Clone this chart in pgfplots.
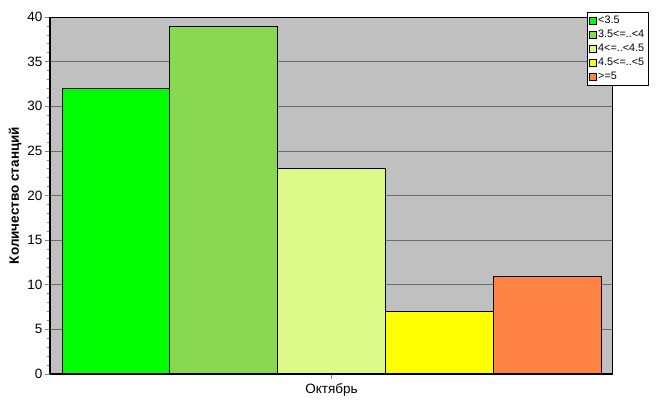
\documentclass[border=0pt]{standalone}
\usepackage{fontspec}
\setmainfont{Liberation Sans}
\usepackage{pgfplots}
\pgfplotsset{compat=1.18}
\definecolor{bgray}{HTML}{C0C0C0}
\definecolor{c1}{HTML}{00FF00}
\definecolor{c2}{HTML}{88D850}
\definecolor{c3}{HTML}{DDFA88}
\definecolor{c4}{HTML}{FFFF00}
\definecolor{c5}{HTML}{FF8444}
\begin{document}
\begin{tikzpicture}[x=1pt,y=1pt]
\useasboundingbox (-50,-41) rectangle (617,374);
\begin{axis}[
  at={(0,0)}, anchor=south west,
  scale only axis, width=562pt, height=357pt,
  xmin=-0.611, xmax=4.602, ymin=0, ymax=40,
  axis background/.style={fill=bgray},
  ybar, bar width=1, bar shift=0pt,
  xtick={2}, xticklabels={Октябрь},
  ytick={0,5,...,40},
  minor y tick num=4,
  /pgf/number format/assume math mode=true,
  ymajorgrids, major grid style={draw=gray!85!black, line width=0.6pt},
  tick style={draw=gray, line width=0.6pt},
  major tick length=5pt, minor tick length=3pt,
  tick align=outside,
  xtick pos=bottom, ytick pos=left,
  axis line style={line width=0.6pt},
  tick label style={font=\fontsize{13.5}{15}\selectfont},
  yticklabel style={xshift=1pt},
  xticklabel style={yshift=-1pt},
  ylabel={\textbf{Количество станций}},
  ylabel style={font=\fontsize{13.5}{16}\selectfont, yshift=-1pt},
  legend style={at={(rel axis cs:0.9555,1.014)}, anchor=north west,
    font=\fontsize{10.8}{12.5}\selectfont, draw=black, fill=white,
    inner xsep=1.5pt, inner ysep=2pt, row sep=1pt, cells={anchor=west},
    text width=46pt},
  legend image code/.code={\draw[#1, draw=black, line width=0.5pt] (1pt,-3.5pt) rectangle (8pt,3.5pt);},
  clip=false,
]
\addplot[fill=c1, draw=black, line width=0.6pt] coordinates {(0,32)};
\addplot[fill=c2, draw=black, line width=0.6pt] coordinates {(1,39)};
\addplot[fill=c3, draw=black, line width=0.6pt] coordinates {(2,23)};
\addplot[fill=c4, draw=black, line width=0.6pt] coordinates {(3,7)};
\addplot[fill=c5, draw=black, line width=0.6pt] coordinates {(4,11)};
\legend{<3.5, 3.5<=..<4, 4<=..<4.5, 4.5<=..<5, >=5}
\draw[black, line width=2pt] (rel axis cs:0,0) -- (rel axis cs:0,1);
\draw[black, line width=2pt] (rel axis cs:0,0) -- (rel axis cs:1,0);
\end{axis}
\end{tikzpicture}
\end{document}
